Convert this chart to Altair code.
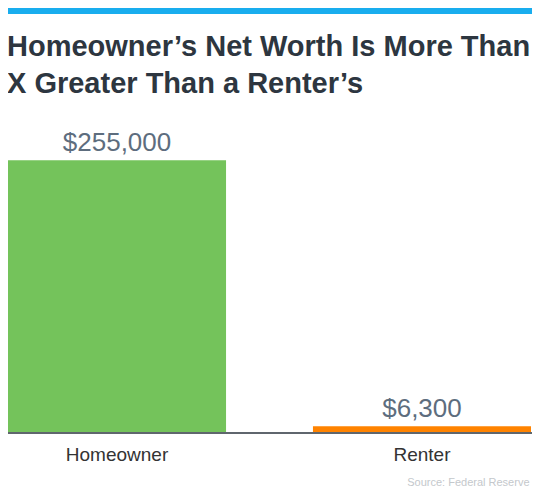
import altair as alt
import pandas as pd

# ---- data ----
categories = ["Homeowner", "Renter"]
net_worth = [255000, 6300]
value_labels = ["$255,000", "$6,300"]
bar_colors = ["#74c35b", "#ff8300"]

title_lines = ["Homeowner\u2019s Net Worth Is More Than", "X Greater Than a Renter\u2019s"]
source_text = "Source: Federal Reserve"

FONT = "Liberation Sans"

df = pd.DataFrame({
    "category": categories,
    "value": net_worth,
    "label": value_labels,
    "color": bar_colors,
})
one = pd.DataFrame({"k": [0]})

x_enc = alt.X(
    "category:N",
    sort=categories,
    scale=alt.Scale(paddingInner=0.285, paddingOuter=0),
    axis=alt.Axis(
        title=source_text,
        labelAngle=0,
        labelFontSize=19,
        labelColor="#333333",
        labelFont=FONT,
        labelPadding=12,
        ticks=False,
        domain=False,
        grid=False,
        titleX=521,
        titleY=52,
        titleAlign="right",
        titleBaseline="alphabetic",
        titleFontSize=11,
        titleFontWeight="normal",
        titleColor="#c4c8cc",
        titleFont=FONT,
    ),
)
y_enc = alt.Y("value:Q", scale=alt.Scale(domain=[0, 300000]), axis=None)

top_band = alt.Chart(one).mark_rect(color="#19adee").encode(
    x=alt.value(-10), x2=alt.value(530), y=alt.value(-104), y2=alt.value(-98)
)

title1 = alt.Chart(one).mark_text(
    text=title_lines[0], align="left", baseline="alphabetic",
    fontSize=29, fontWeight="bold", font=FONT, color="#2d3640",
).encode(x=alt.value(-1), y=alt.value(-56))

title2 = alt.Chart(one).mark_text(
    text=title_lines[1], align="left", baseline="alphabetic",
    fontSize=29, fontWeight="bold", font=FONT, color="#2d3640",
).encode(x=alt.value(-1), y=alt.value(-19))

bars = alt.Chart(df).mark_bar().encode(
    x=x_enc, y=y_enc, color=alt.Color("color:N", scale=None)
)

labels = alt.Chart(df).mark_text(
    baseline="alphabetic", dy=-9, fontSize=26, font=FONT, color="#5d6d7e"
).encode(x=x_enc, y=y_enc, text="label:N")

baseline_rule = alt.Chart(one).mark_rule(color="#5f666d", strokeWidth=2).encode(
    x=alt.value(-10), x2=alt.value(530), y=alt.datum(0)
)

chart = alt.layer(top_band, title1, title2, bars, labels, baseline_rule).properties(
    width=523,
    height=321,
    autosize=alt.AutoSizeParams(type="none"),
    padding={"left": 0, "top": 104, "right": 1, "bottom": 59},
).configure_view(stroke=None)

chart.save("out.html", embed_options={"renderer": "svg", "actions": False})
